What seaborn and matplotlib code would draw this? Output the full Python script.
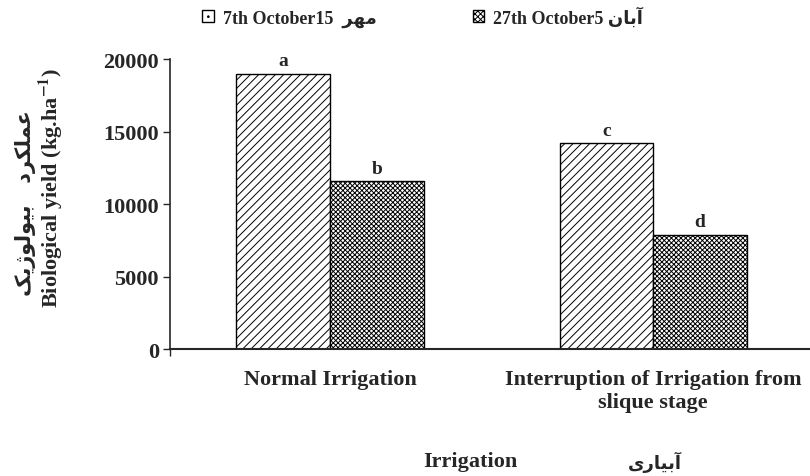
import matplotlib
matplotlib.use("Agg")
import matplotlib.pyplot as plt
import pandas as pd
import seaborn as sns
from matplotlib.patches import Patch

# Persian words written in presentation forms, visual (left-to-right) order
MEHR = "\uFEAE\uFEEC\uFEE3"
ABAN = "\uFEE5\uFE8E\uFE91\uFE81"
ABYARI = "\uFEEF\uFEAD\uFE8E\uFEF4\uFE91\uFE81"
YIELD_FA = "\uFB8F\uFEF3\uFB8A\uFEEE\uFEDF\uFEEE\uFEF4\uFE91" + "   " + "\uFEA9\uFEAE\uFB91\uFEE0\uFEE4\uFECB"

irrigation = ["Normal Irrigation", "Interruption of Irrigation from\nslique stage"]
sowing_dates = ["7th October15  " + MEHR, "27th October5 " + ABAN]
yield_first = [19000, 14200]
yield_second = [11600, 7900]
letters_first = ["a", "c"]
letters_second = ["b", "d"]

df = pd.DataFrame({
    "irrigation": irrigation * 2,
    "date": [sowing_dates[0]] * 2 + [sowing_dates[1]] * 2,
    "yield": yield_first + yield_second,
})

sns.set_style("white")
plt.rcParams["font.family"] = ["Liberation Serif", "DejaVu Sans"]
plt.rcParams["font.weight"] = "bold"
plt.rcParams["hatch.linewidth"] = 0.7
plt.rcParams["mathtext.fontset"] = "stix"

fig = plt.figure(figsize=(8.1, 4.77), dpi=100)
ax = fig.add_axes([0.21, 0.266, 0.79, 0.608])

sns.barplot(data=df, x="irrigation", y="yield", hue="date", order=irrigation,
            hue_order=sowing_dates, palette=["white", "white"], width=0.58,
            edgecolor="black", linewidth=1.0, legend=False, ax=ax)

hatches = ["////", "xxxxxxx"]
for cont, h in zip(ax.containers, hatches):
    for bar in cont:
        bar.set_hatch(h)

for cont, labs in zip(ax.containers, [letters_first, letters_second]):
    ax.bar_label(cont, labels=labs, padding=3, fontsize=14, fontweight="bold")

ax.set_ylim(0, 20000)
ax.set_xlim(-0.495, 1.485)
ax.set_yticks([0, 5000, 10000, 15000, 20000])
ax.tick_params(axis="y", labelsize=16, length=5, width=1, direction="out", left=True, pad=3)
ax.tick_params(axis="x", labelsize=16, length=0, pad=14)
ax.set_xticks([-0.495], minor=True)
ax.tick_params(axis="x", which="minor", length=5, width=1, bottom=True)
for lab in ax.get_xticklabels():
    lab.set_fontweight("bold")
    lab.set_linespacing(1.2)
for lab in ax.get_yticklabels():
    lab.set_fontweight("bold")

sns.despine(ax=ax)
ax.spines["left"].set_linewidth(1.2)
ax.spines["bottom"].set_linewidth(1.5)

ax.set_ylabel("Biological yield (kg.ha$^{\\mathbf{-1}}$)", fontsize=16, fontweight="bold")
ax.yaxis.set_label_coords(-0.165, 0.56)
fig.text(0.031, 0.575, YIELD_FA, rotation=90, ha="center", va="center",
         fontsize=15, family="DejaVu Sans", fontweight="bold")

ax.set_xlabel("Irrigation", fontsize=16, fontweight="bold")
ax.xaxis.set_label_coords(0.469, -0.35)
fig.text(0.809, 0.03, ABYARI, ha="center", va="center",
         fontsize=13, family="DejaVu Sans", fontweight="bold")

handles = [Patch(facecolor="white", edgecolor="black", hatch="..", label=sowing_dates[0]),
           Patch(facecolor="white", edgecolor="black", hatch="xxxxxx", label=sowing_dates[1])]
fig.legend(handles=handles, loc="center", bbox_to_anchor=(0.522, 0.963), ncol=2,
           frameon=False, fontsize=13, handlelength=0.65, handleheight=0.65,
           handletextpad=0.5, columnspacing=5.3)

fig.savefig("out.png", dpi=100)
